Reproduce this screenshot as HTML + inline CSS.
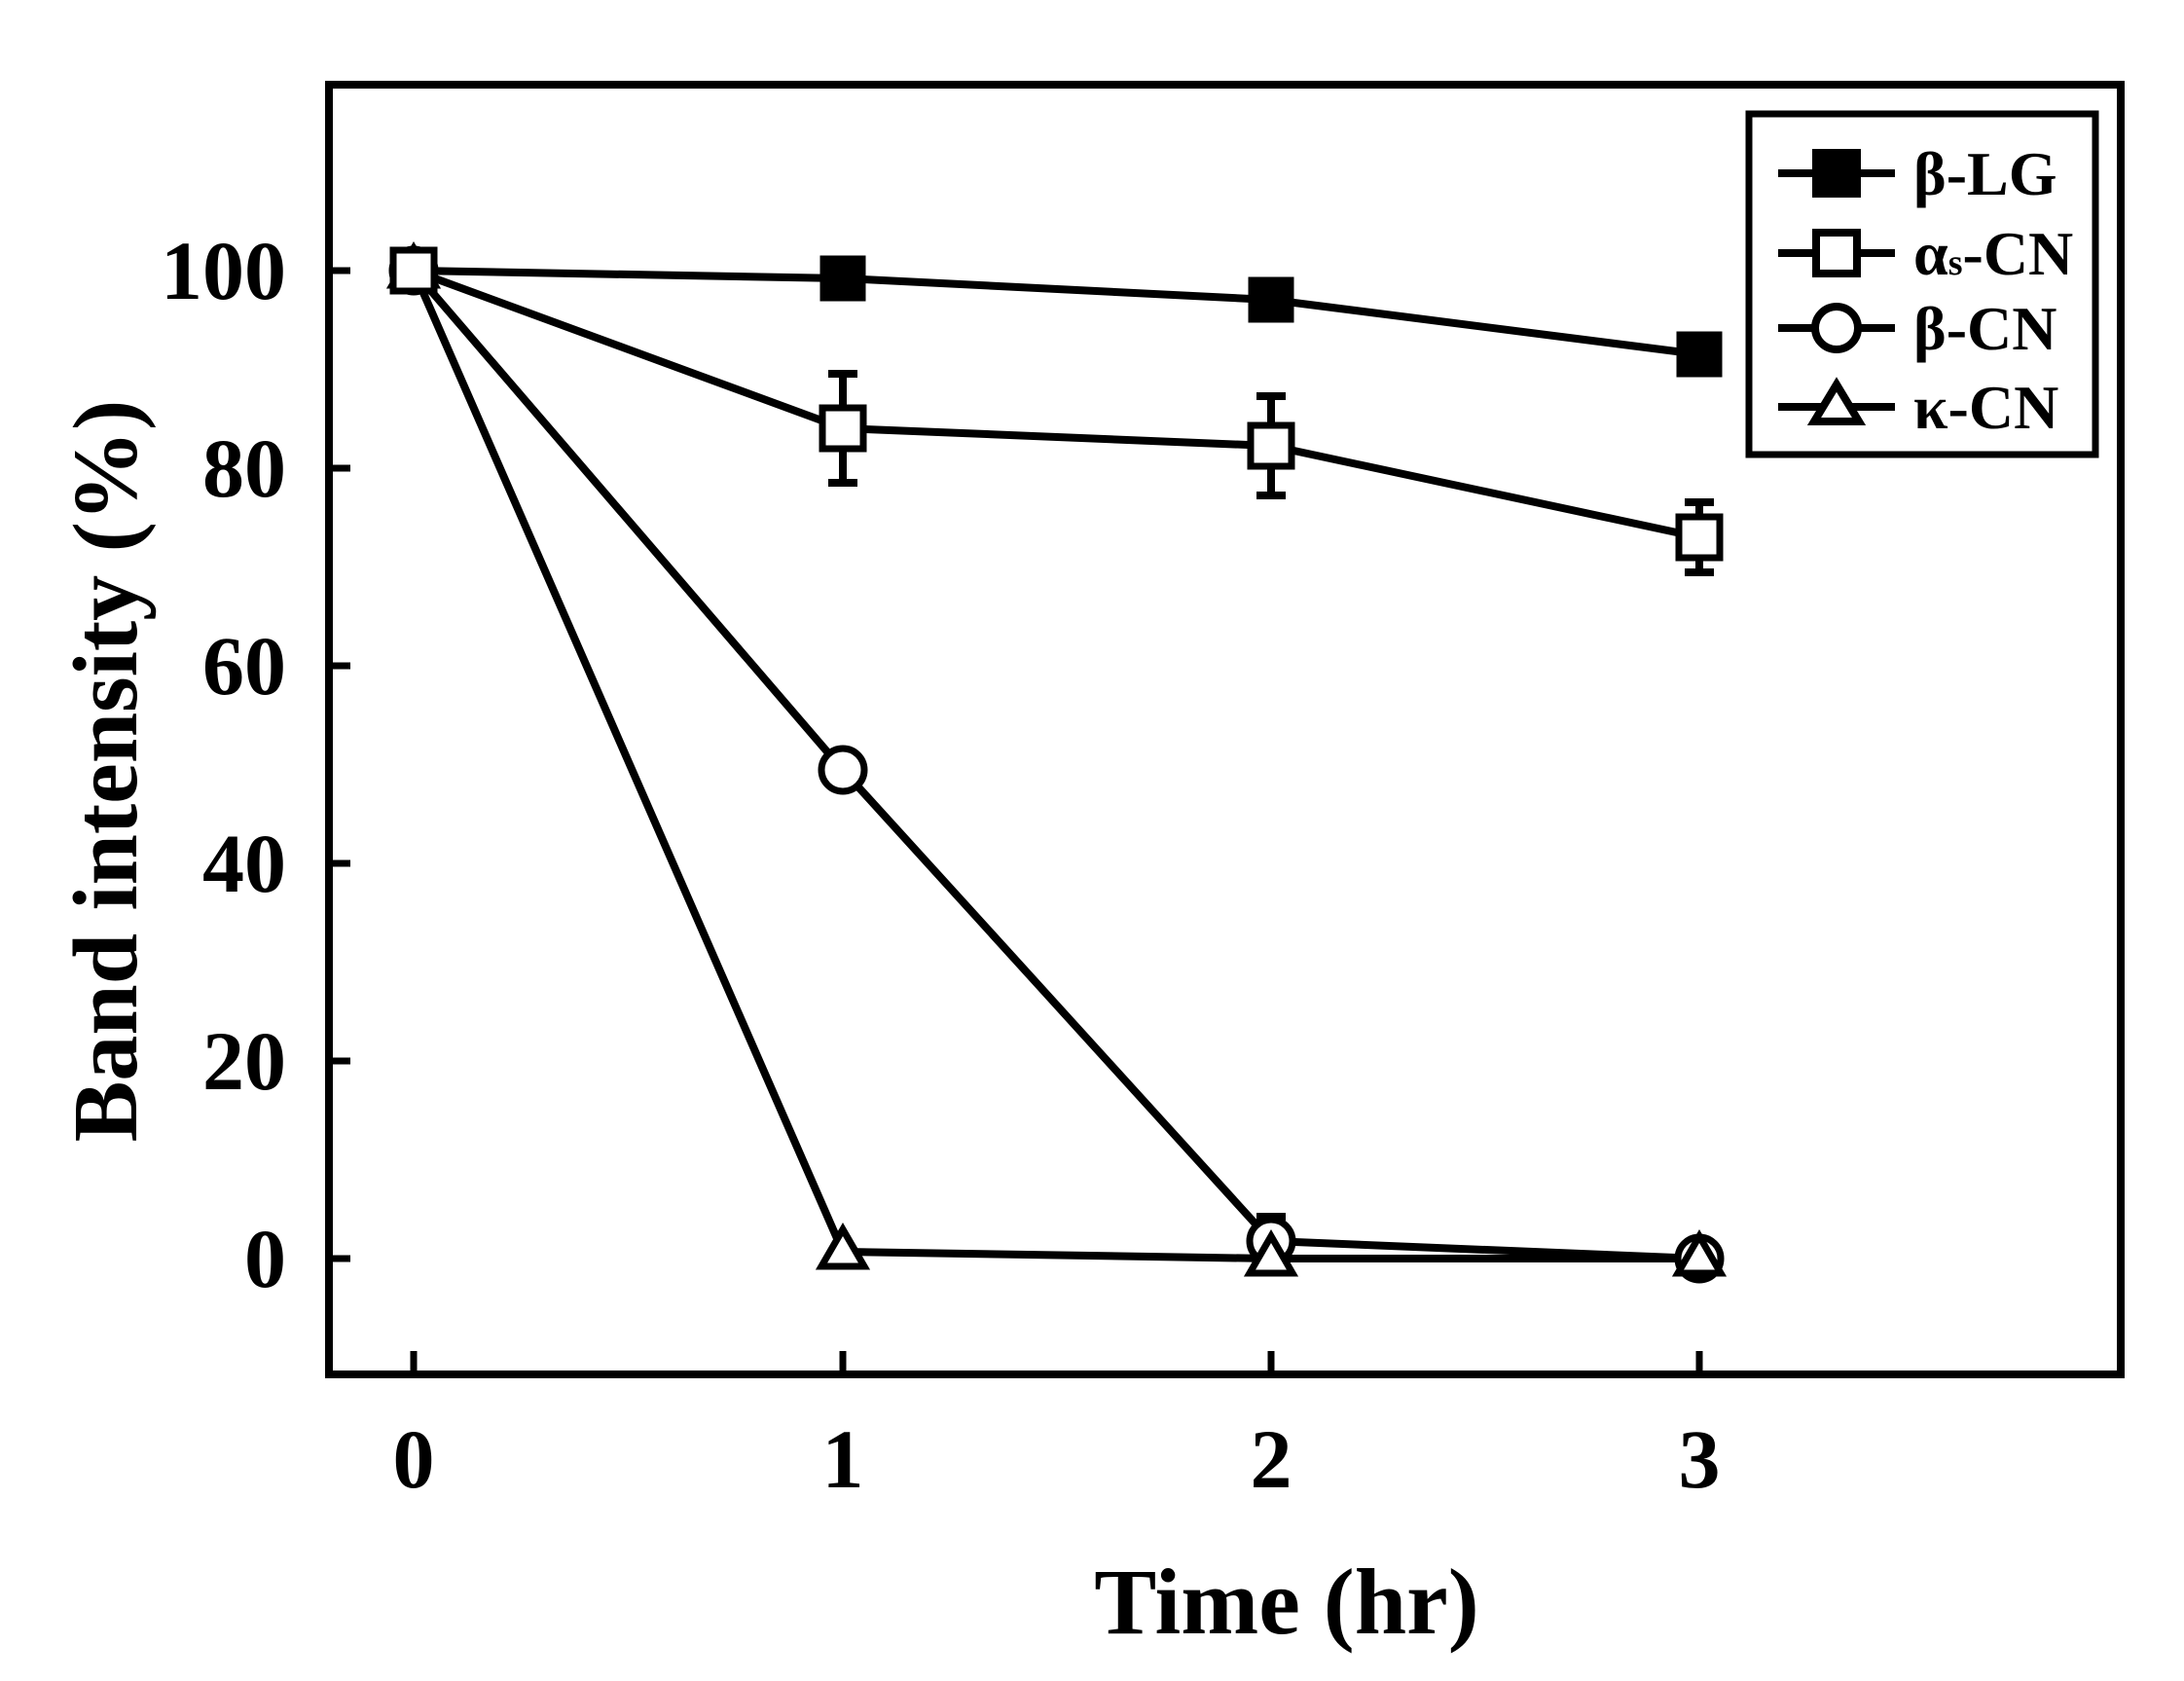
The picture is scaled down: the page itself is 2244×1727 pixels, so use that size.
<!DOCTYPE html>
<html><head><meta charset="utf-8"><style>html,body{margin:0;padding:0;background:#fff}svg{display:block}</style></head>
<body>
<svg width="2244" height="1727" viewBox="0 0 2244 1727" xmlns="http://www.w3.org/2000/svg" font-family="Liberation Serif, serif" font-weight="bold">
<rect width="2244" height="1727" fill="#fff"/>
<rect x="338" y="87" width="1841" height="1325" fill="none" stroke="#000" stroke-width="8"/>
<g stroke="#000" stroke-width="7">
<line x1="338" y1="278" x2="360" y2="278"/>
<line x1="338" y1="481" x2="360" y2="481"/>
<line x1="338" y1="684" x2="360" y2="684"/>
<line x1="338" y1="887" x2="360" y2="887"/>
<line x1="338" y1="1090" x2="360" y2="1090"/>
<line x1="338" y1="1293" x2="360" y2="1293"/>
<line x1="425" y1="1412" x2="425" y2="1388"/>
<line x1="866" y1="1412" x2="866" y2="1388"/>
<line x1="1306" y1="1412" x2="1306" y2="1388"/>
<line x1="1746" y1="1412" x2="1746" y2="1388"/>
</g>
<g font-size="86" text-anchor="end">
<text x="294" y="307">100</text>
<text x="294" y="510">80</text>
<text x="294" y="713">60</text>
<text x="294" y="916">40</text>
<text x="294" y="1119">20</text>
<text x="294" y="1322">0</text>
</g>
<g font-size="86" text-anchor="middle">
<text x="425" y="1528">0</text>
<text x="866" y="1528">1</text>
<text x="1306" y="1528">2</text>
<text x="1746" y="1528">3</text>
</g>
<text x="1322" y="1678" font-size="96" text-anchor="middle">Time (hr)</text>
<text transform="translate(140,792) rotate(-90)" font-size="94" text-anchor="middle">Band intensity (%)</text>

<g fill="none" stroke="#000" stroke-width="8" stroke-linejoin="round">
<polyline points="425,278 866,1286 1306,1293 1746,1293"/>
<polyline points="425,278 866,791 1306,1275 1746,1293"/>
<polyline points="425,278 866,440 1306,458 1746,552"/>
<polyline points="425,278 866,286 1306,308 1746,364"/>
<path d="M866,384V496M851,384H881M851,496H881"/>
<path d="M1306,407V509M1291,407H1321M1291,509H1321"/>
<path d="M1746,516V588M1731,516H1761M1731,588H1761"/>
<path d="M1306,1250V1300M1291,1250H1321"/>
</g>
<g stroke="#000" stroke-width="7">
<g fill="#fff">
<path d="M425,255 L447,293 L403,293Z"/>
<path d="M866,1263 L888,1301 L844,1301Z"/>
<circle cx="1306" cy="1275" r="22"/>
<path d="M1306,1270 L1328,1308 L1284,1308Z"/>
<circle cx="1746" cy="1293" r="22"/>
<path d="M1746,1270 L1768,1308 L1724,1308Z"/>
<circle cx="425" cy="278" r="22"/>
<circle cx="866" cy="791" r="22"/>
<rect x="404" y="257" width="42" height="42"/>
<rect x="845" y="419" width="42" height="42"/>
<rect x="1285" y="437" width="42" height="42"/>
<rect x="1725" y="531" width="42" height="42"/>
</g>
<g fill="#000">
<rect x="846" y="266" width="40" height="40"/>
<rect x="1286" y="288" width="40" height="40"/>
<rect x="1726" y="344" width="40" height="40"/>
</g>
</g>
<rect x="1797" y="117" width="356" height="350" fill="#fff" stroke="#000" stroke-width="7"/>
<g stroke="#000" stroke-width="8">
<line x1="1827" y1="178" x2="1947" y2="178"/>
<line x1="1827" y1="260" x2="1947" y2="260"/>
<line x1="1827" y1="337" x2="1947" y2="337"/>
<line x1="1827" y1="418" x2="1947" y2="418"/>
<rect x="1866" y="157" width="42" height="42" fill="#000"/>
<rect x="1866" y="239" width="42" height="42" fill="#fff"/>
<circle cx="1887" cy="337" r="22" fill="#fff"/>
<path d="M1887,395 L1910,433 L1864,433Z" fill="#fff"/>
</g>
<g font-size="64">
<text x="1966" y="200">β-LG</text>
<text x="1966" y="282">α<tspan font-size="38">s</tspan>-CN</text>
<text x="1966" y="359">β-CN</text>
<text x="1966" y="440">κ-CN</text>
</g>
</svg>
</body></html>
